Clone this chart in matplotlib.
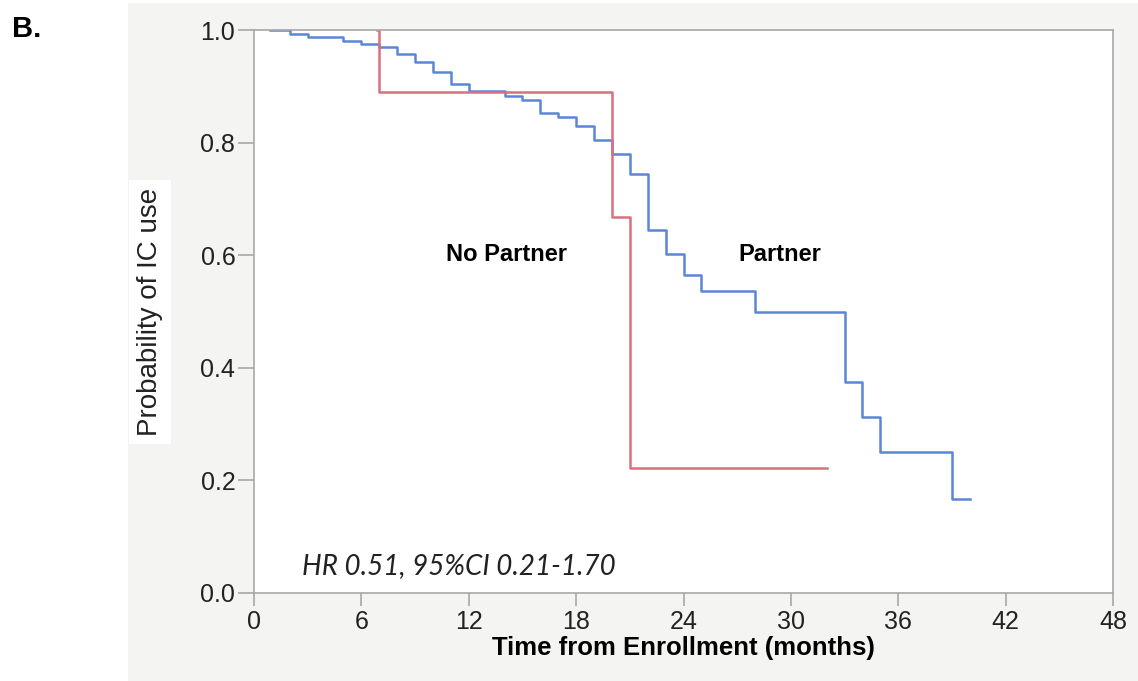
import numpy as np
import matplotlib
matplotlib.use("Agg")
import matplotlib.pyplot as plt
from matplotlib.patches import Rectangle

plt.rcParams['font.family'] = ['Liberation Sans', 'DejaVu Sans']

# Kaplan-Meier steps (time in months, probability after the step)
partner_t = [0.9, 2, 3, 5, 6, 7, 8, 9, 10, 11, 12, 14, 15, 16, 17, 18, 19, 20, 21,
             22, 23, 24, 25, 28, 33, 34, 35, 39, 40]
partner_p = [1.0, 0.993, 0.987, 0.981, 0.975, 0.969, 0.957, 0.944, 0.925, 0.904,
             0.892, 0.883, 0.876, 0.852, 0.846, 0.829, 0.804, 0.779, 0.744, 0.645,
             0.603, 0.565, 0.537, 0.500, 0.375, 0.3125, 0.25, 0.167, 0.167]

nopartner_t = [6.9, 7, 20, 21, 32]
nopartner_p = [1.0, 0.889, 0.667, 0.222, 0.222]

xticks = [0, 6, 12, 18, 24, 30, 36, 42, 48]
yticks = [0.0, 0.2, 0.4, 0.6, 0.8, 1.0]

fig = plt.figure(figsize=(11.38, 6.81), dpi=100)
fig.patch.set_facecolor('white')
# grey panel behind the plot
fig.add_artist(Rectangle((128 / 1138, 0), 1 - 128 / 1138, 1 - 3 / 681,
                         transform=fig.transFigure, facecolor='#f4f4f2',
                         edgecolor='none', zorder=0))

ax = fig.add_axes([254 / 1138, 1 - 593 / 681, 859 / 1138, 563 / 681])
ax.set_facecolor('white')

ax.step(partner_t, partner_p, where='post', color='#5b86d6', lw=1.8)
ax.step(nopartner_t, nopartner_p, where='post', color='#d9707c', lw=1.8)

ax.set_xlim(0, 48)
ax.set_ylim(0, 1.0)
ax.set_xticks(xticks)
ax.set_yticks(yticks)
ax.set_yticklabels([f'{v:.1f}' for v in yticks])
for s in ax.spines.values():
    s.set_color('#a8a8a8')
    s.set_linewidth(1.2)
ax.tick_params(colors='#a8a8a8', labelcolor='#222222', labelsize=18,
               width=1.2, direction='out')
ax.tick_params(axis='x', length=9, pad=3)
ax.tick_params(axis='y', length=11.5, pad=2)

ax.set_xlabel('Time from Enrollment (months)', fontsize=18.5, fontweight='bold',
              labelpad=2)

fig.text(150 / 1138, 1 - 312 / 681, 'Probability of IC use', rotation=90,
         ha='center', va='center', fontsize=20, color='#222222',
         bbox=dict(facecolor='white', edgecolor='none', pad=6))

ax.text(14.1, 0.602, 'No Partner', ha='center', va='center', fontsize=17,
        fontweight='bold')
ax.text(29.4, 0.602, 'Partner', ha='center', va='center', fontsize=17,
        fontweight='bold')
ax.text(2.7, 0.048, 'HR 0.51, 95%CI 0.21-1.70', ha='left', va='center',
        fontsize=20, fontstyle='italic', family=['Lato', 'DejaVu Sans'],
        color='#222222')

fig.text(12 / 1138, 1 - 29 / 681, 'B.', ha='left', va='center', fontsize=21,
         fontweight='bold')

fig.savefig('out.png', dpi=100)
